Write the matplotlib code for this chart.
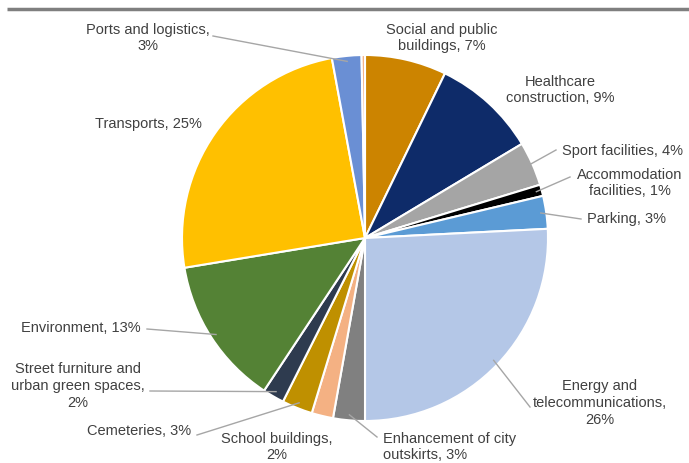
import numpy as np
import matplotlib.pyplot as plt

labels = ["Social and public\nbuildings", "Healthcare\nconstruction", "Sport facilities",
          "Accommodation\nfacilities", "Parking", "Energy and\ntelecommunications,\n",
          "Enhancement of city\noutskirts", "School buildings,\n", "Cemeteries",
          "Street furniture and\nurban green spaces,\n", "Environment", "Transports",
          "Ports and logistics,\n", ""]
values = [7.2, 9.2, 3.9, 1.0, 2.9, 25.8, 2.8, 1.9, 2.7, 1.9, 13.1, 24.7, 2.6, 0.3]
colors = ["#CC8400", "#0E2B69", "#A5A5A5", "#000000", "#5B9BD5", "#B4C7E7",
          "#808080", "#F4B183", "#BF9000", "#2E3B4F", "#548235", "#FFC000",
          "#6A8FD4", "#F4B183"]

# label anchor (x, y in pixels from top-left), alignment, leader end point
label_pos = [
    (442, 38, "center", None),
    (560, 90, "center", None),
    (562, 151, "left", (556, 151)),
    (630, 183, "center", (570, 178)),
    (587, 219, "left", (581, 220)),
    (600, 403, "center", (530, 408)),
    (383, 447, "left", (377, 438)),
    (277, 447, "center", None),
    (139, 431, "center", (197, 436)),
    (78, 386, "center", (150, 392)),
    (81, 328, "center", (147, 330)),
    (148, 124, "center", None),
    (148, 38, "center", (213, 37)),
    None,
]

W, H = 689, 464
cx, cy, R = 365, 225, 183

plt.rcParams["font.family"] = ["Liberation Sans Narrow", "Liberation Sans", "DejaVu Sans"]
fig = plt.figure(figsize=(W / 100, H / 100), dpi=100)
ax = fig.add_axes([0, 0, 1, 1])

wedges, _ = ax.pie(values, colors=colors, startangle=90, counterclock=False,
                   center=(cx, cy), radius=R,
                   wedgeprops=dict(edgecolor="white", linewidth=1.5))
ax.set_xlim(0, W)
ax.set_ylim(0, H)
ax.set_aspect("equal")
ax.axis("off")

for w, lab, v, pos in zip(wedges, labels, values, label_pos):
    if pos is None:
        continue
    x, y, ha, lead = pos
    if lab.endswith("\n"):
        text = f"{lab}{v:.0f}%"
    else:
        text = f"{lab}, {v:.0f}%"
    ax.text(x, H - y, text, ha=ha, va="center", fontsize=10.5, color="#404040",
            linespacing=1.25)
    if lead is not None:
        mid = np.deg2rad((w.theta1 + w.theta2) / 2)
        sx = cx + 0.97 * R * np.cos(mid)
        sy = cy + 0.97 * R * np.sin(mid)
        ax.plot([sx, lead[0]], [sy, H - lead[1]], color="#A6A6A6", lw=1)

# rule across the top
ax.plot([7, W], [H - 10, H - 10], color="#7F7F7F", lw=2.5, solid_capstyle="butt")

fig.savefig("out.png", dpi=100)
